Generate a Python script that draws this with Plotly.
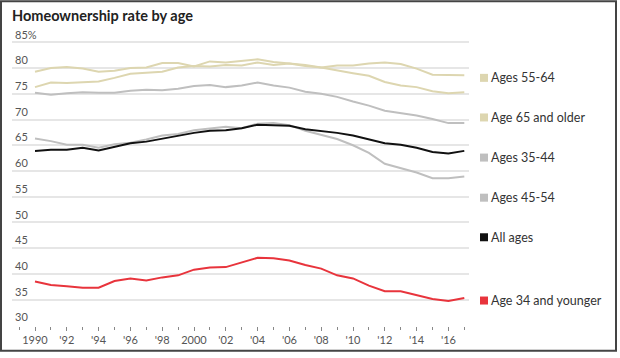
import plotly.graph_objects as go

years = list(range(1990, 2018))

age_55_64 = [79.3, 80.0, 80.2, 79.9, 79.3, 79.5, 80.0, 80.1, 81.0, 81.0,
             80.3, 81.3, 81.1, 81.4, 81.7, 81.2, 80.9, 80.6, 80.1, 79.5,
             79.0, 78.5, 77.3, 76.6, 76.3, 75.5, 75.1, 75.3]
age_65_plus = [76.3, 77.2, 77.1, 77.3, 77.4, 78.1, 78.9, 79.1, 79.3, 80.1,
               80.4, 80.3, 80.6, 80.5, 81.1, 80.6, 80.9, 80.4, 80.1, 80.5,
               80.5, 80.9, 81.1, 80.8, 79.9, 78.7, 78.6, 78.6]
age_45_54 = [75.2, 74.8, 75.1, 75.3, 75.2, 75.2, 75.6, 75.8, 75.7, 76.0,
             76.5, 76.7, 76.3, 76.6, 77.2, 76.6, 76.2, 75.4, 75.0, 74.4,
             73.5, 72.7, 71.7, 71.2, 70.8, 70.1, 69.3, 69.3]
age_35_44 = [66.3, 65.8, 65.1, 65.1, 64.5, 65.2, 65.5, 66.1, 66.9, 67.2,
             67.9, 68.2, 68.6, 68.3, 69.2, 69.3, 68.9, 67.8, 67.0, 66.2,
             65.0, 63.5, 61.4, 60.6, 59.7, 58.6, 58.6, 58.9]
all_ages = [63.9, 64.1, 64.1, 64.5, 64.0, 64.7, 65.4, 65.7, 66.3, 66.8,
            67.4, 67.8, 67.9, 68.3, 69.0, 68.9, 68.8, 68.1, 67.8, 67.4,
            66.9, 66.1, 65.4, 65.1, 64.5, 63.7, 63.4, 63.9]
age_under_35 = [38.5, 37.8, 37.6, 37.3, 37.3, 38.6, 39.1, 38.7, 39.3, 39.7,
                40.8, 41.2, 41.3, 42.2, 43.1, 43.0, 42.6, 41.7, 41.0, 39.7,
                39.1, 37.7, 36.6, 36.6, 35.8, 35.1, 34.7, 35.3]

y_tickvals = [30, 35, 40, 45, 50, 55, 60, 65, 70, 75, 80, 85]
y_ticktext = ['30', '35', '40', '45', '50', '55', '60', '65', '70', '75', '80', '85%']
x_tickvals = list(range(1990, 2017, 2))
x_ticktext = ['1990', "'92", "'94", "'96", "'98", '2000', "'02", "'04", "'06",
              "'08", "'10", "'12", "'14", "'16"]

legend_labels = ['Ages 55-64', 'Age 65 and older', 'Ages 35-44', 'Ages 45-54',
                 'All ages', 'Age 34 and younger']

TAN = '#ddd6b0'
GRAY = '#bfbfbf'
BLACK = '#111111'
RED = '#e8343c'
legend_colors = [TAN, TAN, GRAY, GRAY, BLACK, RED]
legend_y = [78.1, 70.4, 62.6, 54.8, 47.1, 34.8]

series = [(age_55_64, TAN), (age_65_plus, TAN), (age_45_54, GRAY),
          (age_35_44, GRAY), (all_ages, BLACK), (age_under_35, RED)]

FONT = 'Lato, sans-serif'
fig = go.Figure()
for vals, col in series:
    fig.add_trace(go.Scatter(x=years, y=vals, mode='lines',
                             line=dict(color=col, width=2),
                             showlegend=False, hoverinfo='skip'))

# plot area geometry in px
L, R, T, B = 12, 469, 26, 330
W, H = 620, 358
pw, ph = R - L, B - T
PXU = 5.211   # px per percentage point
PXY = 15.9    # px per year
YMIN = 30 - 0.8 / PXU

def px_x(p):
    return (p - L) / pw

def px_y(p):
    return (B - p) / ph

shapes = []
annotations = []
for lab, col, yv in zip(legend_labels, legend_colors, legend_y):
    shapes.append(dict(type='rect', xref='paper', yref='y',
                       xsizemode='pixel', ysizemode='pixel',
                       xanchor=px_x(484), yanchor=yv,
                       x0=-4, x1=4, y0=-4, y1=4,
                       fillcolor=col, line=dict(width=0)))
    annotations.append(dict(xref='paper', yref='y', x=px_x(489), y=yv,
                            xanchor='left', yanchor='middle', showarrow=False,
                            text=lab, font=dict(family=FONT, size=12.5, color='#333333')))

# outer border
shapes.append(dict(type='rect', xref='paper', yref='paper',
                   x0=px_x(1), x1=px_x(616), y0=px_y(355), y1=px_y(1),
                   line=dict(color='#444444', width=2), fillcolor='rgba(0,0,0,0)',
                   layer='above'))

fig.update_layout(
    width=W, height=H,
    margin=dict(l=L, r=W - R, t=T, b=H - B),
    paper_bgcolor='white', plot_bgcolor='white',
    title=dict(text='<b>Homeownership rate by age</b>', x=12 / W, xanchor='left',
               xref='container', y=1 - 16 / H, yanchor='middle', yref='container',
               font=dict(family=FONT, size=14.5, color='#222222')),
    xaxis=dict(range=[1990 - 23 / PXY, 1990 - 23 / PXY + pw / PXY],
               tickvals=x_tickvals, ticktext=x_ticktext,
               ticks='outside', ticklen=4, tickcolor='#888888', tickwidth=1,
               minor=dict(dtick=1, tick0=1990, ticks='outside', ticklen=3,
                          tickcolor='#888888', tickwidth=1, showgrid=False),
               showgrid=False, showline=False, zeroline=False,
               tickfont=dict(family=FONT, size=11, color='#555555')),
    yaxis=dict(range=[YMIN, YMIN + ph / PXU],
               tickvals=y_tickvals, ticktext=y_ticktext,
               ticklabelposition='inside top', ticklabeloverflow='allow', ticks='',
               showgrid=True, gridcolor='#e6e6e6', gridwidth=1.5,
               showline=False, zeroline=False,
               tickfont=dict(family=FONT, size=11, color='#555555')),
    shapes=shapes, annotations=annotations,
)

fig.write_html('out.html', config={'displayModeBar': False},
               post_script="document.body.style.margin='0';document.body.style.overflow='hidden';")
